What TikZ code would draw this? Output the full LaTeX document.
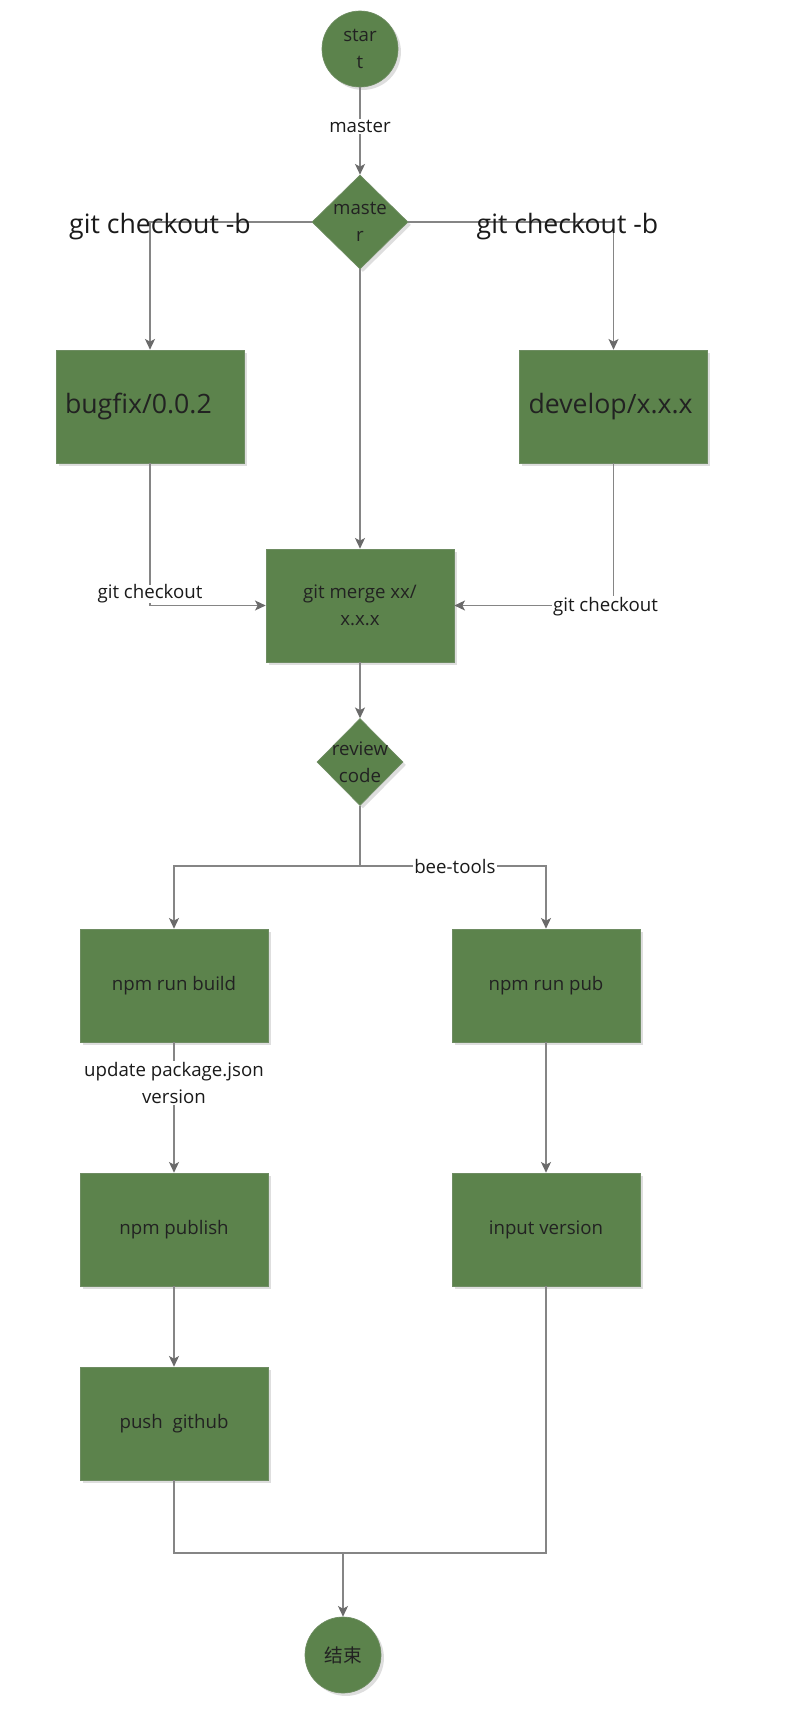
\documentclass[tikz,border=0pt]{standalone}
\usepackage{fontspec}
\setmainfont{Open Sans}
\newfontfamily\cjkfont{Noto Sans CJK SC}
\usetikzlibrary{shapes.geometric, arrows.meta, shadows}
\definecolor{gr}{HTML}{5C834C}
\definecolor{edgec}{HTML}{6E8C62}
\definecolor{linec}{HTML}{858585}
\definecolor{tipc}{HTML}{6A6A6A}
\definecolor{tx}{HTML}{222222}
\definecolor{lt}{HTML}{1A1A1A}
\newcommand{\fsmall}{\fontsize{14pt}{20pt}\selectfont}
\newcommand{\flarge}{\fontsize{20pt}{24pt}\selectfont}
\tikzset{
  shd/.style={drop shadow={shadow xshift=2.2pt, shadow yshift=-2.2pt, fill=black!13, opacity=1}},
  box/.style={rectangle, fill=gr, draw=edgec, line width=0.5pt, minimum width=141pt,
    minimum height=84.75pt, inner sep=0pt, text=tx, font=\fsmall, align=center, shd},
  bigbox/.style={box, font=\flarge, align=left, text width=127.5pt, inner xsep=6.75pt},
  rnd/.style={circle, fill=gr, draw=edgec, line width=0.5pt, minimum size=57pt, inner sep=0pt,
    text=tx, font=\fsmall, align=center, shd},
  dia/.style={diamond, fill=gr, draw=edgec, line width=0.5pt, inner sep=0pt, shd},
  dlab/.style={align=center, font=\fsmall, text=tx},
  lab/.style={fill=white, inner sep=1pt, font=\fsmall, text=lt, align=center},
  biglab/.style={inner sep=0pt, font=\flarge, text=lt},
  conn/.style={draw=linec, line width=0.9pt},
  arr/.style={conn, -{Stealth[length=8pt, width=7.5pt, inset=2pt, color=tipc]}},
}
\begin{document}
\begin{tikzpicture}[x=0.75pt, y=-0.75pt]
\fill[white] (0,0) rectangle (808,1720);
\useasboundingbox (0,0) rectangle (808,1720);

% nodes
\node[rnd] (start) at (360,49) {star\\t};
\node[dia, minimum width=72pt, minimum height=70.5pt, label={[dlab]center:maste\\r}] (m) at (360,222) {};
\node[bigbox] (bug) at (150,406.5) {bugfix/0.0.2};
\node[bigbox] (dev) at (613.5,406.5) {develop/x.x.x};
\node[box] (merge) at (360,605.5) {git merge xx/\\x.x.x};
\node[dia, minimum width=64.5pt, minimum height=65.25pt, label={[dlab]center:review\\code}] (rv) at (360,762) {};
\node[box] (build) at (174,985.5) {npm run build};
\node[box] (pub) at (546,985.5) {npm run pub};
\node[box] (publish) at (174,1229.5) {npm publish};
\node[box] (input) at (546,1229.5) {input version};
\node[box] (push) at (174,1423.5) {push\ \ github};
\node[rnd] (end) at (343,1655) {\cjkfont 结束};

% connectors
\draw[arr] (start) -- node[lab, pos=0.45] {master} (m);
\draw[arr] (m.west) -| (bug.north);
\draw[arr] (m.east) -| (dev.north);
\node[biglab] (gl) at (160,227) {git checkout -b};
\node[biglab] (gr) at (567.5,227) {git checkout -b};
\draw[arr] (m.south) -- (merge.north);
\draw[arr] (bug.south) |- node[lab, pos=0.46, inner sep=0pt] {git checkout} (merge.west);
\draw[arr] (dev.south) |- node[lab, pos=0.5, xshift=-6pt, yshift=-1pt, inner sep=1pt] {git checkout} (merge.east);
\draw[arr] (merge.south) -- (rv.north);
\coordinate (split) at (360,866);
\draw[conn] (rv.south) -- (split);
\draw[arr] (split) -| (build.north);
\draw[arr] (split) -| node[lab, pos=0.255] {bee-tools} (pub.north);
\draw[arr] (build.south) -- node[lab, pos=0.31] {update package.json\\version} (publish.north);
\draw[arr] (pub.south) -- (input.north);
\draw[arr] (publish.south) -- (push.north);
\coordinate (join) at (343,1553);
\draw[conn] (push.south) |- (join) -| (input.south);
\draw[arr] (join) -- (end.north);
\end{tikzpicture}
\end{document}
